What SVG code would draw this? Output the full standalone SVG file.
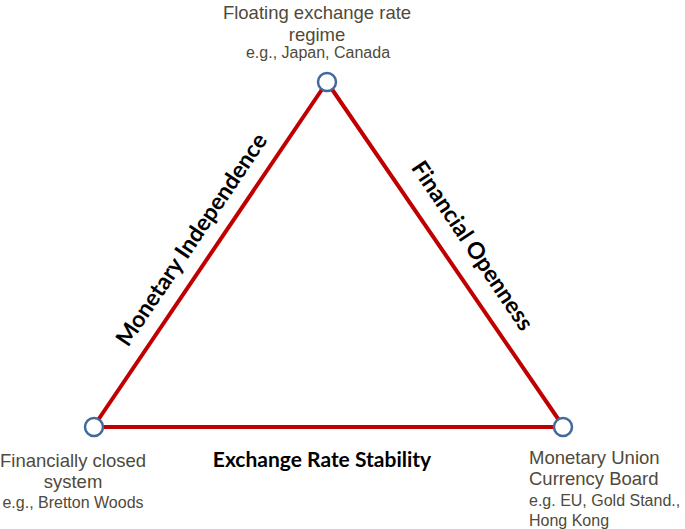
<svg xmlns="http://www.w3.org/2000/svg" width="685" height="529" viewBox="0 0 685 529">
<style>
.lbl{font-family:"Liberation Sans",Arial,sans-serif;font-size:18.5px;fill:#4f4a3a}
.sm{font-size:16px}
.edge{font-family:Lato,"Open Sans",sans-serif;font-weight:bold;font-size:23px;fill:#000}
.base{font-size:21px}
.node{fill:#fff;stroke:#41699c;stroke-width:2.5}
.con{stroke:#c00000;stroke-width:4;fill:none;stroke-linecap:round}
</style>
<rect width="685" height="529" fill="#fff"/>
<g id="connectors">
<line class="con" x1="327" y1="82" x2="94" y2="426"/>
<line class="con" x1="327" y1="82" x2="563" y2="426"/>
<line class="con" x1="94" y1="427" x2="563" y2="427"/>
</g>
<g id="edge-labels">
<text class="edge" text-anchor="middle" transform="translate(198,244) rotate(-56)">Monetary Independence</text>
<text class="edge" text-anchor="middle" transform="translate(466,250) rotate(56)">Financial Openness</text>
<text class="edge base" x="322" y="467" text-anchor="middle">Exchange Rate Stability</text>
</g>
<g id="node-top">
<circle class="node" cx="327" cy="82" r="9"/>
<text class="lbl" text-anchor="middle"><tspan x="317" y="19">Floating exchange rate</tspan><tspan x="317" y="41">regime</tspan><tspan class="sm" x="318" y="58">e.g., Japan, Canada</tspan></text>
</g>
<g id="node-left">
<circle class="node" cx="94" cy="427" r="9"/>
<text class="lbl" text-anchor="middle"><tspan x="73" y="467">Financially closed</tspan><tspan x="73" y="488">system</tspan><tspan class="sm" x="73" y="508">e.g., Bretton Woods</tspan></text>
</g>
<g id="node-right">
<circle class="node" cx="563" cy="427" r="9"/>
<text class="lbl"><tspan x="529" y="464">Monetary Union</tspan><tspan x="529" y="485">Currency Board</tspan><tspan class="sm" x="529" y="506">e.g. EU, Gold Stand.,</tspan><tspan class="sm" x="529" y="526">Hong Kong</tspan></text>
</g>
</svg>
